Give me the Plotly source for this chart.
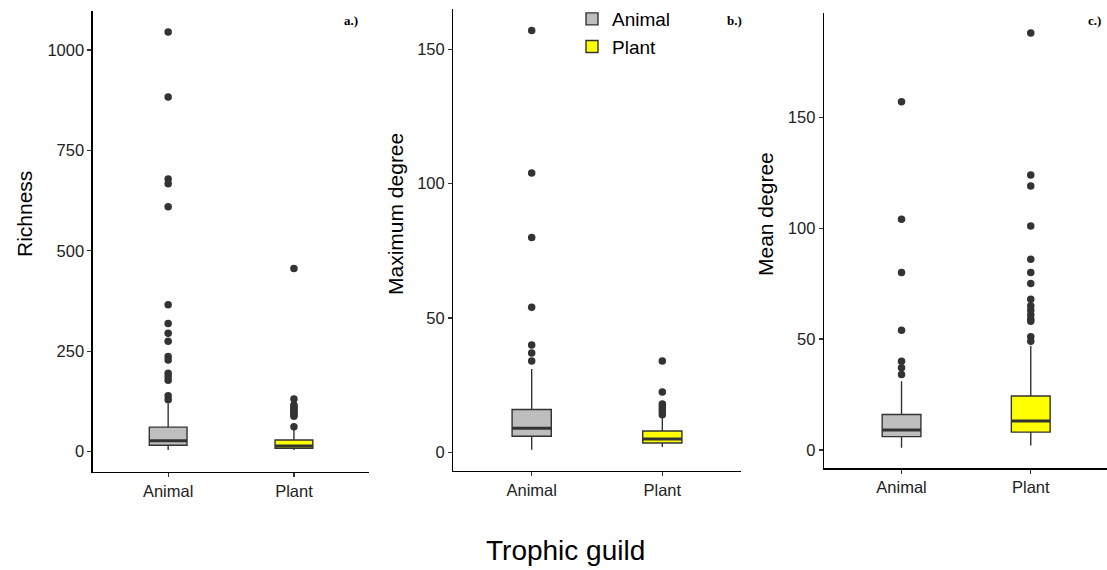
import plotly.graph_objects as go

W, H = 1107, 570

guilds = ["Animal", "Plant"]
guild_pos = [1, 2]
fills = ["#BEBEBE", "#FFFF00"]

# Panel a: Richness  (lowerfence, q1, median, q3, upperfence)
rich_lower = [4, 4]
rich_q1 = [16, 8.5]
rich_median = [27, 14]
rich_q3 = [61, 29]
rich_upper = [120, 54]
rich_out_animal = [1045, 883, 679, 667, 610, 366, 319, 295, 275, 237, 228, 195, 187, 178, 139, 129]
rich_out_plant = [456, 131, 116, 112, 108, 104, 100, 96, 92, 88, 62]

# Panel b: Maximum degree
maxd_lower = [1, 2]
maxd_q1 = [6, 3.5]
maxd_median = [9, 5]
maxd_q3 = [16, 8]
maxd_upper = [31, 13]
maxd_out_animal = [157, 104, 80, 54, 40, 37, 34]
maxd_out_plant = [34, 22.5, 18, 17, 16, 15, 14]

# Panel c: Mean degree
mean_lower = [1, 2]
mean_q1 = [6, 8]
mean_median = [9, 13]
mean_q3 = [16, 24.3]
mean_upper = [31, 47]
mean_out_animal = [157, 104, 80, 54, 40, 37, 34]
mean_out_plant = [188, 124, 119, 101, 86, 80, 75, 68, 65, 63, 61, 59, 58, 51, 49]

y_titles = ["Richness", "Maximum degree", "Mean degree"]
panel_tags = ["a.)", "b.)", "c.)"]
y_ticks = [[0, 250, 500, 750, 1000], [0, 50, 100, 150], [0, 50, 100, 150]]
y_ranges = [[-50, 1098], [-6.8, 164.9], [-8.3, 197.2]]

# pixel layout of each panel (left, right, top, bottom)
panels_px = [(92.7, 369.4, 10.7, 471.7), (453.3, 740.7, 9.3, 470.7), (824.0, 1107.0, 12.7, 468.3)]
x_ranges = [[0.4, 2.6], [0.4, 2.6], [0.4, 2.59]]

BOXW = 0.3
OUT = "#333333"
FONT = "Liberation Sans, Arial, Helvetica, sans-serif"

stats = [
    (rich_lower, rich_q1, rich_median, rich_q3, rich_upper, [rich_out_animal, rich_out_plant]),
    (maxd_lower, maxd_q1, maxd_median, maxd_q3, maxd_upper, [maxd_out_animal, maxd_out_plant]),
    (mean_lower, mean_q1, mean_median, mean_q3, mean_upper, [mean_out_animal, mean_out_plant]),
]

fig = go.Figure()
layout = dict(
    width=W, height=H,
    margin=dict(l=0, r=0, t=0, b=0),
    plot_bgcolor="white", paper_bgcolor="white",
    showlegend=True,
    font=dict(family=FONT, color="#222222"),
)
annotations = []

for p, (lo, q1, med, q3, up, outs) in enumerate(stats):
    xa = "x" if p == 0 else f"x{p+1}"
    ya = "y" if p == 0 else f"y{p+1}"
    for g in range(2):
        fig.add_trace(go.Box(
            x=[guild_pos[g]], lowerfence=[lo[g]], q1=[q1[g]], median=[med[g]],
            q3=[q3[g]], upperfence=[up[g]],
            width=BOXW, whiskerwidth=0,
            fillcolor=fills[g], line=dict(color=OUT, width=1.4),
            boxpoints=False, name=guilds[g],
            showlegend=(p == 0), xaxis=xa, yaxis=ya, hoverinfo="skip",
        ))
        # thicker median line as in ggplot
        fig.add_trace(go.Scatter(
            x=[guild_pos[g] - BOXW / 2, guild_pos[g] + BOXW / 2], y=[med[g], med[g]],
            mode="lines", line=dict(color=OUT, width=3), showlegend=False,
            xaxis=xa, yaxis=ya, hoverinfo="skip",
        ))
        fig.add_trace(go.Scatter(
            x=[guild_pos[g]] * len(outs[g]), y=outs[g], mode="markers",
            marker=dict(color=OUT, size=7.5), showlegend=False,
            xaxis=xa, yaxis=ya, hoverinfo="skip",
        ))

    l, r, t, b = panels_px[p]
    xkey = "xaxis" if p == 0 else f"xaxis{p+1}"
    ykey = "yaxis" if p == 0 else f"yaxis{p+1}"
    layout[xkey] = dict(
        domain=[l / W, r / W], range=x_ranges[p], anchor=ya,
        tickvals=guild_pos, ticktext=guilds, ticks="outside", ticklen=4,
        tickcolor=OUT, tickwidth=1.2, showline=True, linecolor="#000000", linewidth=1.3,
        showgrid=False, zeroline=False, tickfont=dict(size=16.5, family=FONT, color="#222222"),
        fixedrange=True,
    )
    layout[ykey] = dict(
        domain=[1 - b / H, 1 - t / H], range=y_ranges[p], anchor=xa,
        tickvals=y_ticks[p], ticks="outside", ticklen=4,
        tickcolor=OUT, tickwidth=1.2, showline=True, linecolor="#000000", linewidth=1.3,
        showgrid=False, zeroline=False, tickfont=dict(size=16.5, family=FONT, color="#222222"),
        fixedrange=True,
    )

y_title_x = [24, 395, 765]
for p in range(3):
    annotations.append(dict(
        text=y_titles[p], x=y_title_x[p] / W, y=1 - 214 / H, xref="paper", yref="paper",
        textangle=-90, showarrow=False, xanchor="center", yanchor="middle",
        font=dict(size=21, family=FONT, color="#000000"),
    ))

tag_x = [351, 735, 1094]
for p in range(3):
    annotations.append(dict(
        text=f"<b>{panel_tags[p]}</b>", x=tag_x[p] / W, y=1 - 20 / H, xref="paper", yref="paper",
        showarrow=False, xanchor="center", yanchor="middle",
        font=dict(size=13, family="Liberation Serif, DejaVu Serif, serif", color="#000000"),
    ))

annotations.append(dict(
    text="Trophic guild", x=565 / W, y=1 - 550 / H, xref="paper", yref="paper",
    showarrow=False, xanchor="center", yanchor="middle",
    font=dict(size=28, family=FONT, color="#000000"),
))

layout["annotations"] = annotations
layout["legend"] = dict(
    x=572 / W, y=1.0, xanchor="left", yanchor="top",
    font=dict(size=19, family=FONT, color="#000000"),
    bgcolor="rgba(0,0,0,0)", tracegroupgap=0, itemwidth=30,
)

fig.update_layout(**layout)
fig.write_html(
    "out.html",
    config={"displayModeBar": False, "staticPlot": True},
    post_script="document.body.style.margin='0';document.body.style.overflow='hidden';",
)
